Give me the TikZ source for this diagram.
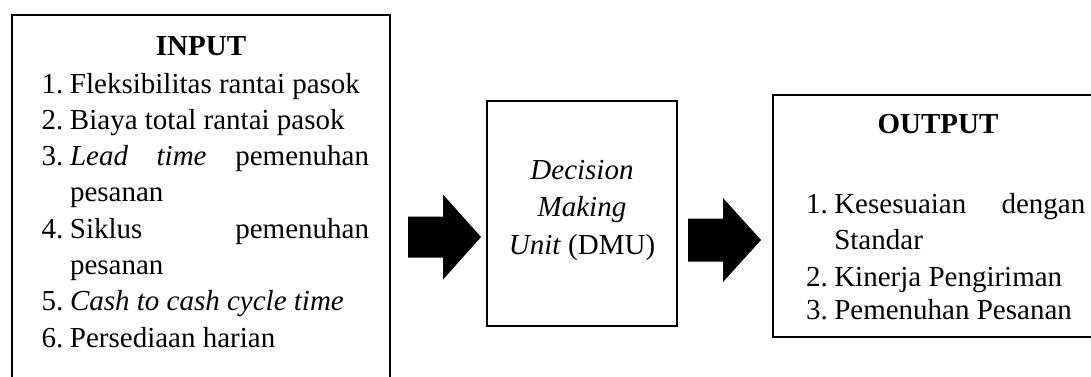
\documentclass[tikz,border=0pt]{standalone}
\usepackage{fontspec}
\setmainfont{Liberation Serif}
\newcommand\lstitem[2]{\makebox[28.3pt][l]{#1}#2}
\newcommand\lstjust[3]{\makebox[28.3pt][l]{#1}\makebox[#3][s]{#2}}
\begin{document}
\begin{tikzpicture}[x=1pt,y=-1pt,
  box/.style={draw=black,line width=2.4pt},
  txt/.style={inner sep=0pt,outer sep=0pt,font=\fontsize{29}{36.3}\selectfont},
  blockarrow/.style={fill=black,draw=none}]
\clip (0,0) rectangle (1091,376);
\fill[white] (0,0) rectangle (1091,376);
% boxes
\draw[box] (12,15) rectangle (390,400);
\draw[box] (487,101) rectangle (677,326);
\draw[box] (773,95) rectangle (1100,337);
% input text
\node[txt,anchor=base] (intitle) at (201,55) {\bfseries INPUT};
\node[txt,anchor=north west,align=left] (inlist) at (41.7,72.9) {%
\lstitem{1.}{Fleksibilitas rantai pasok}\\
\lstitem{2.}{Biaya total rantai pasok}\\
\lstjust{3.}{\textit{Lead time} pemenuhan}{299pt}\\
\hspace*{28.3pt}pesanan\\
\lstjust{4.}{Siklus pemenuhan}{299pt}\\
\hspace*{28.3pt}pesanan\\
\lstitem{5.}{\textit{Cash to cash cycle time}}\\
\lstitem{6.}{Persediaan harian}};
% DMU text
\node[txt,anchor=north,align=center,font=\fontsize{29}{37.5}\selectfont] (dmu) at (582,160.2) {%
\textit{Decision}\\ \textit{Making}\\ \textit{Unit} (DMU)};
% output text
\node[txt,anchor=base] (outtitle) at (938,133) {\bfseries OUTPUT};
\node[txt,anchor=north west,align=left,font=\fontsize{29}{36.5}\selectfont] (outlist) at (806,193.2) {%
\lstjust{1.}{Kesesuaian dengan}{251pt}\\
\hspace*{28.3pt}Standar\\
\lstitem{2.}{Kinerja Pengiriman}\\[-3.5pt]
\lstitem{3.}{Pemenuhan Pesanan}};
% block arrows
\fill[blockarrow] (408,216.5) -- (443,216.5) -- (443,194.5) -- (481,237) -- (443,279.5) -- (443,257.5) -- (408,257.5) -- cycle;
\fill[blockarrow] (688,218.5) -- (723,218.5) -- (723,198) -- (761,240) -- (723,282) -- (723,261.5) -- (688,261.5) -- cycle;
\end{tikzpicture}
\end{document}
